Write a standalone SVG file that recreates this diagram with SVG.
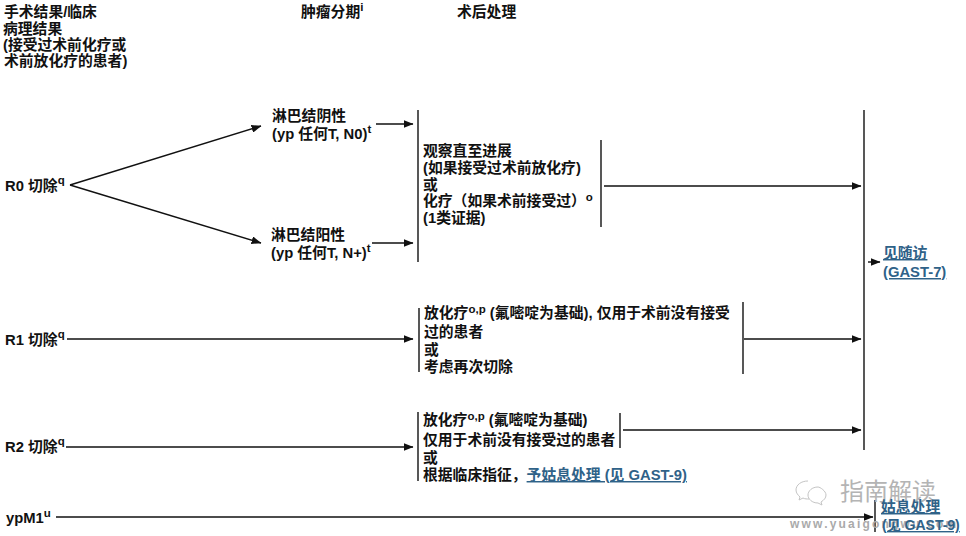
<svg xmlns="http://www.w3.org/2000/svg" width="966" height="536" viewBox="0 0 966 536">
<style>
text{font-family:"Liberation Sans","Noto Sans CJK SC",sans-serif;font-size:14.8px;font-weight:700;fill:#111}
.sup{font-size:11.5px}
.lk{fill:#2f6288;text-decoration:underline}
.wm{fill:#b4b4b4;font-weight:400}
.wu{fill:#aaa;font-size:12px;letter-spacing:2.2px}
.ln{stroke:#111;stroke-width:1.4;fill:none}
.ar{stroke:#111;stroke-width:1.4;fill:none;marker-end:url(#a)}
</style>
<defs><marker id="a" viewBox="0 0 10 8" refX="9.5" refY="4" markerWidth="10" markerHeight="8" markerUnits="userSpaceOnUse" orient="auto"><path d="M0 0L10 4L0 8Z" fill="#111"/></marker></defs>
<rect width="966" height="536" fill="#fff"/>
<g id="connectors">
<path class="ar" d="M70 185L261 126"/>
<path class="ar" d="M70 185L261 243"/>
<path class="ar" d="M376 124H413"/>
<path class="ar" d="M372 243H413"/>
<path class="ln" d="M418 110V262"/>
<path class="ln" d="M601 140V227"/>
<path class="ar" d="M604 186H861"/>
<path class="ar" d="M67 339H413"/>
<path class="ln" d="M419 308V372"/>
<path class="ln" d="M743 302V374"/>
<path class="ar" d="M744 339H861"/>
<path class="ar" d="M66 447H413"/>
<path class="ln" d="M418 412V481"/>
<path class="ln" d="M620 413V448"/>
<path class="ar" d="M623 430H861"/>
<path class="ln" d="M864 110V450"/>
<path class="ar" d="M868 262H880"/>
<path class="ar" d="M56 517H873"/>
<path class="ln" d="M875 500V532"/>
</g>
<g id="header-result"><text x="4" y="17">手术结果/临床</text><text x="3" y="34">病理结果</text><text x="3" y="50">(接受过术前化疗或</text><text x="4" y="66">术前放化疗的患者)</text></g>
<g id="header-stage"><text x="301" y="17">肿瘤分期<tspan class="sup" dy="-6">i</tspan></text></g>
<g id="header-post"><text x="457" y="17">术后处理</text></g>
<g id="r0"><text x="5" y="191">R0 切除<tspan class="sup" dy="-7">q</tspan></text></g>
<g id="n0"><text x="272" y="121">淋巴结阴性</text><text x="272" y="139">(yp 任何T, N0)<tspan class="sup" dy="-6">t</tspan></text></g>
<g id="np"><text x="271" y="240">淋巴结阳性</text><text x="271" y="258">(yp 任何T, N+)<tspan class="sup" dy="-6">t</tspan></text></g>
<g id="obs"><text x="423" y="156">观察直至进展</text><text x="423" y="173">(如果接受过术前放化疗)</text><text x="423" y="190">或</text><text x="423" y="206">化疗（如果术前接受过）<tspan class="sup" dy="-5">o</tspan></text><text x="423" y="223">(1类证据)</text></g>
<g id="r1"><text x="5" y="345">R1 切除<tspan class="sup" dy="-7">q</tspan></text></g>
<g id="r1t"><text x="424" y="318">放化疗<tspan class="sup" dy="-5">o,p</tspan><tspan dy="5"> (氟嘧啶为基础), 仅用于术前没有接受</tspan></text><text x="424" y="337">过的患者</text><text x="424" y="355">或</text><text x="424" y="372">考虑再次切除</text></g>
<g id="r2"><text x="5" y="452">R2 切除<tspan class="sup" dy="-7">q</tspan></text></g>
<g id="r2t"><text x="423" y="425">放化疗<tspan class="sup" dy="-5">o,p</tspan><tspan dy="5"> (氟嘧啶为基础)</tspan></text><text x="423" y="445">仅用于术前没有接受过的患者</text><text x="423" y="463">或</text><text x="423" y="480">根据临床指征，<tspan class="lk">予姑息处理 (见 GAST-9)</tspan></text></g>
<g id="ypm1"><text x="6" y="523">ypM1<tspan class="sup" dy="-6">u</tspan></text></g>
<g id="followup"><text class="lk" x="883" y="258">见随访</text><text class="lk" x="883" y="277">(GAST-7)</text></g>
<g id="watermark"><path d="M808 481c-7 0-12 4-12 9 0 3 2 5 4 7l-1 3 4-2c2 1 4 1 6 1M818 487c-6 0-10 4-10 8s4 8 10 8l4 2-1-3c3-2 5-4 5-7 0-4-6-8-8-8Z" fill="none" stroke="#c4c4c4"/><text class="wm" x="840" y="500" style="font-size:24px">指南解读</text></g>
<g id="watermark-url"><text class="wu" x="790" y="528">www.yuaigongwu.com</text></g>
<g id="palliative"><text class="lk" x="881" y="512">姑息处理</text><text class="lk" x="882" y="530" style="font-size:14px">(见 GAST-9)</text></g>
</svg>
